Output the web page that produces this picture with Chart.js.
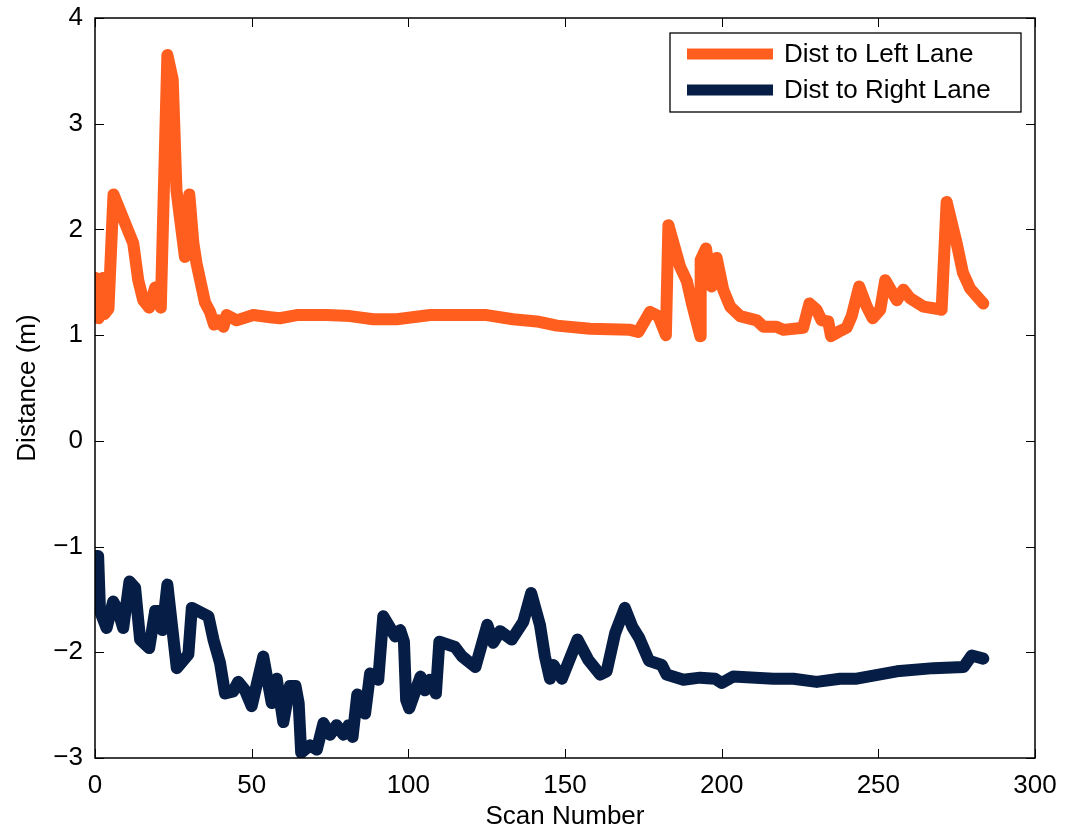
<!DOCTYPE html>
<html>
<head>
<meta charset="utf-8">
<script src="https://cdn.jsdelivr.net/npm/chart.js@4/dist/chart.umd.min.js"></script>
<style>
  body { margin: 0; background: #fff; }
  #wrap { width: 1067px; height: 835px; position: relative; }
</style>
</head>
<body>
<div id="wrap"><canvas id="mycanvas"></canvas></div>
<script>
var xTicks = [0, 50, 100, 150, 200, 250, 300];
var yTicks = [-3, -2, -1, 0, 1, 2, 3, 4];

var leftScan = [0, 0.3, 1.2, 2.5, 3, 4.3, 5.9, 10, 12.2, 13.8, 15.4, 17.3, 19.2, 20, 21, 23.1, 24.8, 26, 28.7, 30.1,
  31.4, 32.4, 35.1, 36.7, 38, 39.4, 41, 42, 45.2, 50.5, 55.9, 59, 64.4, 74, 81.4, 88.8, 96.3, 107, 125, 133.4,
  141, 147.4, 158, 170.8, 173.4, 177.1, 179.8, 182.2, 183, 186.7, 188.9, 190.5, 193.2, 193.3, 195, 196.8, 198.4, 200.5, 202.7, 205.9,
  211.2, 213.3, 217.5, 219.7, 226, 228, 230.3, 231.9, 234, 234.9, 237.2, 239.9, 241.5, 243.9, 246.3, 248.2, 250.6, 252.2, 255.9, 258,
  260.1, 264.4, 268.6, 270.2, 271.8, 275, 277, 279.3, 283.5];
var leftDist = [1.54, 1.2, 1.16, 1.54, 1.2, 1.25, 2.33, 2.03, 1.87, 1.52, 1.33, 1.26, 1.45, 1.42, 1.26, 3.65, 3.42, 2.37, 1.74, 2.33,
  1.87, 1.68, 1.31, 1.22, 1.10, 1.14, 1.08, 1.19, 1.14, 1.19, 1.17, 1.16, 1.19, 1.19, 1.18, 1.15, 1.15, 1.19, 1.19, 1.15,
  1.13, 1.09, 1.06, 1.05, 1.03, 1.22, 1.18, 1.00, 2.04, 1.65, 1.51, 1.30, 0.99, 1.71, 1.82, 1.46, 1.73, 1.43, 1.27, 1.18,
  1.14, 1.08, 1.08, 1.05, 1.07, 1.30, 1.24, 1.14, 1.13, 0.99, 1.03, 1.07, 1.18, 1.46, 1.27, 1.16, 1.24, 1.52, 1.33, 1.43,
  1.35, 1.27, 1.25, 1.24, 2.26, 1.87, 1.59, 1.44, 1.30];

var rightScan = [0, 1, 1.6, 3.7, 5.8, 7.4, 9, 11, 12.8, 14.4, 17.3, 19.2, 20.5, 21.5, 23.1, 24, 26.1, 29.8, 30.9, 36.2,
  37.8, 39.9, 41.5, 44.1, 45.7, 47.9, 50, 53.7, 56.4, 58, 60.1, 62.2, 64, 65, 65.8, 68.6, 70.8, 72.9, 75, 77.1,
  79.3, 80.9, 82.2, 83.7, 86.2, 87.8, 90.4, 92, 95.8, 97.4, 98.6, 99.3, 100.3, 103.9, 105.3, 106.9, 108.8, 109.9, 114.9, 117.2,
  121.4, 125.2, 127.1, 129.3, 133, 136.7, 139.2, 142, 143.6, 145.2, 146.3, 149, 154, 157.4, 161.2, 163.3, 166, 169.1, 171.5, 173.6,
  176.8, 180.9, 182.4, 187.8, 193.1, 197.9, 200, 203.7, 216.5, 222.9, 230.3, 237.8, 243.1, 255.9, 267.6, 277.2, 279.8, 283.5];
var rightDist = [-1.09, -1.09, -1.61, -1.77, -1.52, -1.61, -1.77, -1.33, -1.39, -1.88, -1.96, -1.61, -1.61, -1.79, -1.36, -1.60, -2.15, -2.02, -1.58, -1.66,
  -1.88, -2.10, -2.39, -2.37, -2.28, -2.36, -2.51, -2.04, -2.48, -2.25, -2.66, -2.32, -2.32, -2.48, -2.95, -2.88, -2.92, -2.67, -2.78, -2.69,
  -2.78, -2.69, -2.80, -2.40, -2.58, -2.20, -2.26, -1.66, -1.85, -1.79, -1.90, -2.45, -2.53, -2.23, -2.36, -2.26, -2.39, -1.90, -1.95, -2.04,
  -2.14, -1.74, -1.91, -1.80, -1.88, -1.71, -1.44, -1.74, -2.04, -2.25, -2.12, -2.25, -1.88, -2.07, -2.21, -2.18, -1.82, -1.58, -1.76, -1.86,
  -2.08, -2.12, -2.21, -2.26, -2.24, -2.25, -2.29, -2.23, -2.25, -2.25, -2.28, -2.25, -2.25, -2.18, -2.15, -2.14, -2.03, -2.06];

var seriesNames = ['Dist to Left Lane', 'Dist to Right Lane'];
var seriesColors = ['#FF5E1F', '#061D45'];

function points(xs, ys) {
  var out = [];
  for (var i = 0; i < xs.length; i++) {
    out.push({x: xs[i], y: ys[i]});
  }
  return out;
}

function minus(v) {
  return String(v).replace('-', '\u2212');
}

var FONT = '"Liberation Sans", Arial, Helvetica, sans-serif';

// matlab style box with inward ticks on all four sides
var framePlugin = {
  id: 'frame',
  afterDatasetsDraw: function(chart) {
    var ctx = chart.ctx;
    var a = chart.chartArea;
    var xs = chart.scales.x, ys = chart.scales.y;
    var tl = 9;
    ctx.save();
    ctx.strokeStyle = '#000';
    ctx.lineWidth = 1;
    ctx.beginPath();
    for (var i = 0; i < xTicks.length; i++) {
      var px = Math.round(xs.getPixelForValue(xTicks[i])) + 0.5;
      ctx.moveTo(px, a.bottom); ctx.lineTo(px, a.bottom - tl);
      ctx.moveTo(px, a.top); ctx.lineTo(px, a.top + tl);
    }
    for (var j = 0; j < yTicks.length; j++) {
      var py = Math.round(ys.getPixelForValue(yTicks[j])) + 0.5;
      ctx.moveTo(a.left, py); ctx.lineTo(a.left + tl, py);
      ctx.moveTo(a.right, py); ctx.lineTo(a.right - tl, py);
    }
    ctx.stroke();
    ctx.lineWidth = 1.5;
    ctx.strokeRect(a.left, a.top, a.right - a.left, a.bottom - a.top);
    ctx.restore();
  },
  afterDraw: function(chart) {
    var ctx = chart.ctx;
    var a = chart.chartArea;
    var right = a.right - 14, top = a.top + 15;
    var w = 351, h = 79;
    var left = right - w;
    ctx.save();
    ctx.fillStyle = '#fff';
    ctx.fillRect(left, top, w, h);
    ctx.strokeStyle = '#000';
    ctx.lineWidth = 1.3;
    ctx.strokeRect(left, top, w, h);
    ctx.font = '26px ' + FONT;
    ctx.textBaseline = 'middle';
    ctx.textAlign = 'left';
    chart.data.datasets.forEach(function(ds, k) {
      var y = top + 21 + k * 36;
      ctx.strokeStyle = ds.borderColor;
      ctx.lineWidth = 11;
      ctx.lineCap = 'butt';
      ctx.beginPath();
      ctx.moveTo(left + 17, y);
      ctx.lineTo(left + 103, y);
      ctx.stroke();
      ctx.fillStyle = '#000';
      ctx.fillText(ds.label, left + 114, y + 1);
    });
    ctx.restore();
  }
};

var chartdata = {
  datasets: [
    {
      label: seriesNames[0],
      data: points(leftScan, leftDist),
      borderColor: seriesColors[0],
      backgroundColor: seriesColors[0],
      borderWidth: 12,
      pointRadius: 0,
      borderJoinStyle: 'round',
      borderCapStyle: 'round',
      tension: 0,
      clip: 0
    },
    {
      label: seriesNames[1],
      data: points(rightScan, rightDist),
      borderColor: seriesColors[1],
      backgroundColor: seriesColors[1],
      borderWidth: 12,
      pointRadius: 0,
      borderJoinStyle: 'round',
      borderCapStyle: 'round',
      tension: 0,
      clip: 0
    }
  ]
};

var ctx = document.getElementById('mycanvas');

var lineGraph = new Chart(ctx, {
  type: 'line',
  data: chartdata,
  plugins: [framePlugin],
  options: {
    responsive: true,
    maintainAspectRatio: false,
    animation: false,
    layout: { padding: { top: 18, right: 32, left: 0, bottom: 0 } },
    plugins: {
      legend: { display: false },
      tooltip: { enabled: false }
    },
    scales: {
      x: {
        type: 'linear',
        min: 0,
        max: 300,
        afterBuildTicks: function(scale) {
          scale.ticks = xTicks.map(function(v) { return {value: v}; });
        },
        afterFit: function(scale) {
          scale.height = 77;
          scale.paddingLeft = 0;
          scale.paddingRight = 0;
        },
        grid: { display: false, drawTicks: false },
        border: { display: false },
        ticks: {
          padding: 12,
          color: '#000',
          maxRotation: 0,
          autoSkip: false,
          font: { family: FONT, size: 26 },
          callback: function(v) { return minus(v); }
        },
        title: {
          display: true,
          text: 'Scan Number',
          color: '#000',
          font: { family: FONT, size: 26 },
          padding: { top: 0, bottom: 3 }
        }
      },
      y: {
        min: -3,
        max: 4,
        afterBuildTicks: function(scale) {
          scale.ticks = yTicks.map(function(v) { return {value: v}; });
        },
        afterFit: function(scale) {
          scale.width = 95;
          scale.paddingTop = 0;
          scale.paddingBottom = 0;
        },
        grid: { display: false, drawTicks: false },
        border: { display: false },
        ticks: {
          padding: 12,
          color: '#000',
          autoSkip: false,
          font: { family: FONT, size: 26 },
          callback: function(v) { return minus(v); }
        },
        title: {
          display: true,
          text: 'Distance (m)',
          color: '#000',
          font: { family: FONT, size: 26 },
          padding: { top: 12, bottom: 0 }
        }
      }
    }
  }
});
</script>
</body>
</html>
